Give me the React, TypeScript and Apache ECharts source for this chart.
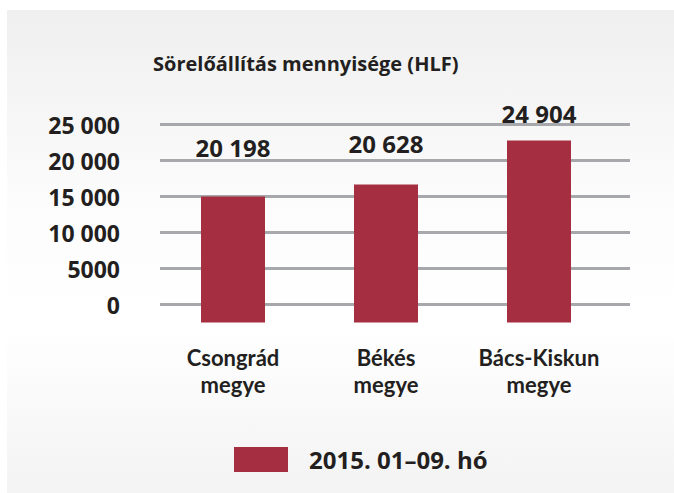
import React, { useEffect, useRef } from "react";
import * as echarts from "echarts";

const title = "Sörelőállítás mennyisége (HLF)";
const categories = ["Csongrád\nmegye", "Békés\nmegye", "Bács-Kiskun\nmegye"];
const seriesName = "2015. 01–09. hó";
// values printed above the bars
const labelValues = [20198, 20628, 24904];
// bar heights as drawn in the picture (bars start below the 0 grid line)
const barValues = [17500, 19170, 25280];
const yTicks = [0, 5000, 10000, 15000, 20000, 25000];

const fmt = (v: number) => {
  const s = String(Math.round(v));
  if (s.length <= 4) return s;
  return s.replace(/\B(?=(\d{3})+(?!\d))/g, " ");
};

const FONT = "'Open Sans', 'Noto Sans', sans-serif";
const CAT_FONT = "Lato, 'Open Sans', sans-serif";
const TXT = "#231f20";
const BAR = "#a62e41";

export default function App() {
  const ref = useRef<HTMLDivElement>(null);
  useEffect(() => {
    document.body.style.margin = "0";
    const chart = echarts.init(ref.current!, null, { renderer: "svg" });
    chart.setOption({
      animation: false,
      textStyle: { fontFamily: FONT },
      graphic: [
        {
          type: "rect",
          z: -100,
          silent: true,
          shape: { x: 7, y: 10, width: 667, height: 483 },
          style: {
            fill: new echarts.graphic.LinearGradient(0, 0, 0, 1, [
              { offset: 0, color: "#efefef" },
              { offset: 0.4, color: "#fcfcfc" },
              { offset: 0.65, color: "#ffffff" },
              { offset: 1, color: "#f3f3f3" },
            ]),
          },
        },
      ],
      title: {
        text: title,
        left: 148,
        top: 48,
        textStyle: { fontFamily: FONT, fontSize: 20, fontWeight: "bold", color: TXT },
      },
      legend: {
        data: [seriesName],
        left: 234,
        top: 447,
        padding: 0,
        itemWidth: 54,
        itemHeight: 25,
        icon: "rect",
        textStyle: {
          fontFamily: FONT,
          fontSize: 24,
          fontWeight: "bold",
          color: TXT,
          padding: [0, 0, 0, 16],
        },
      },
      grid: [
        { left: 160, right: 44, top: 124.5, height: 180, containLabel: false },
        { left: 156.5, right: 58.5, top: 124.5, height: 198, containLabel: false },
      ],
      xAxis: [
        {
          gridIndex: 0,
          type: "category",
          data: categories,
          show: false,
        },
        {
          gridIndex: 1,
          type: "category",
          data: categories,
          axisLine: { show: false },
          axisTick: { show: false },
          axisLabel: {
            interval: 0,
            margin: 21,
            fontFamily: CAT_FONT,
            fontSize: 22,
            lineHeight: 27,
            fontWeight: "bold",
            color: TXT,
          },
        },
      ],
      yAxis: [
        {
          gridIndex: 0,
          type: "value",
          min: yTicks[0],
          max: yTicks[yTicks.length - 1],
          interval: 5000,
          axisLine: { show: false },
          axisTick: { show: false },
          splitLine: { lineStyle: { color: "#a7a8ab", width: 3 } },
          axisLabel: {
            margin: 40,
            fontFamily: FONT,
            fontSize: 23,
            fontWeight: "bold",
            color: TXT,
            formatter: (v: number) => fmt(v),
          },
        },
        {
          gridIndex: 1,
          type: "value",
          min: 0,
          max: 27500,
          show: false,
          splitLine: { show: false },
        },
        {
          gridIndex: 1,
          type: "value",
          min: -2500,
          max: 25000,
          show: false,
          splitLine: { show: false },
        },
      ],
      series: [
        {
          name: seriesName,
          type: "bar",
          xAxisIndex: 1,
          yAxisIndex: 1,
          data: barValues,
          barWidth: 64,
          itemStyle: { color: BAR },
          silent: true,
        },
        {
          name: "labels",
          type: "bar",
          xAxisIndex: 1,
          yAxisIndex: 2,
          data: labelValues,
          barWidth: 64,
          barGap: "-100%",
          itemStyle: { color: "rgba(0,0,0,0)" },
          silent: true,
          label: {
            show: true,
            position: "top",
            distance: 0,
            fontFamily: FONT,
            fontSize: 24,
            lineHeight: 24,
            fontWeight: "bold",
            color: TXT,
            formatter: (p: any) => fmt(p.value),
          },
        },
      ],
    });
    return () => chart.dispose();
  }, []);
  return <div ref={ref} style={{ width: 674, height: 493 }} />;
}
